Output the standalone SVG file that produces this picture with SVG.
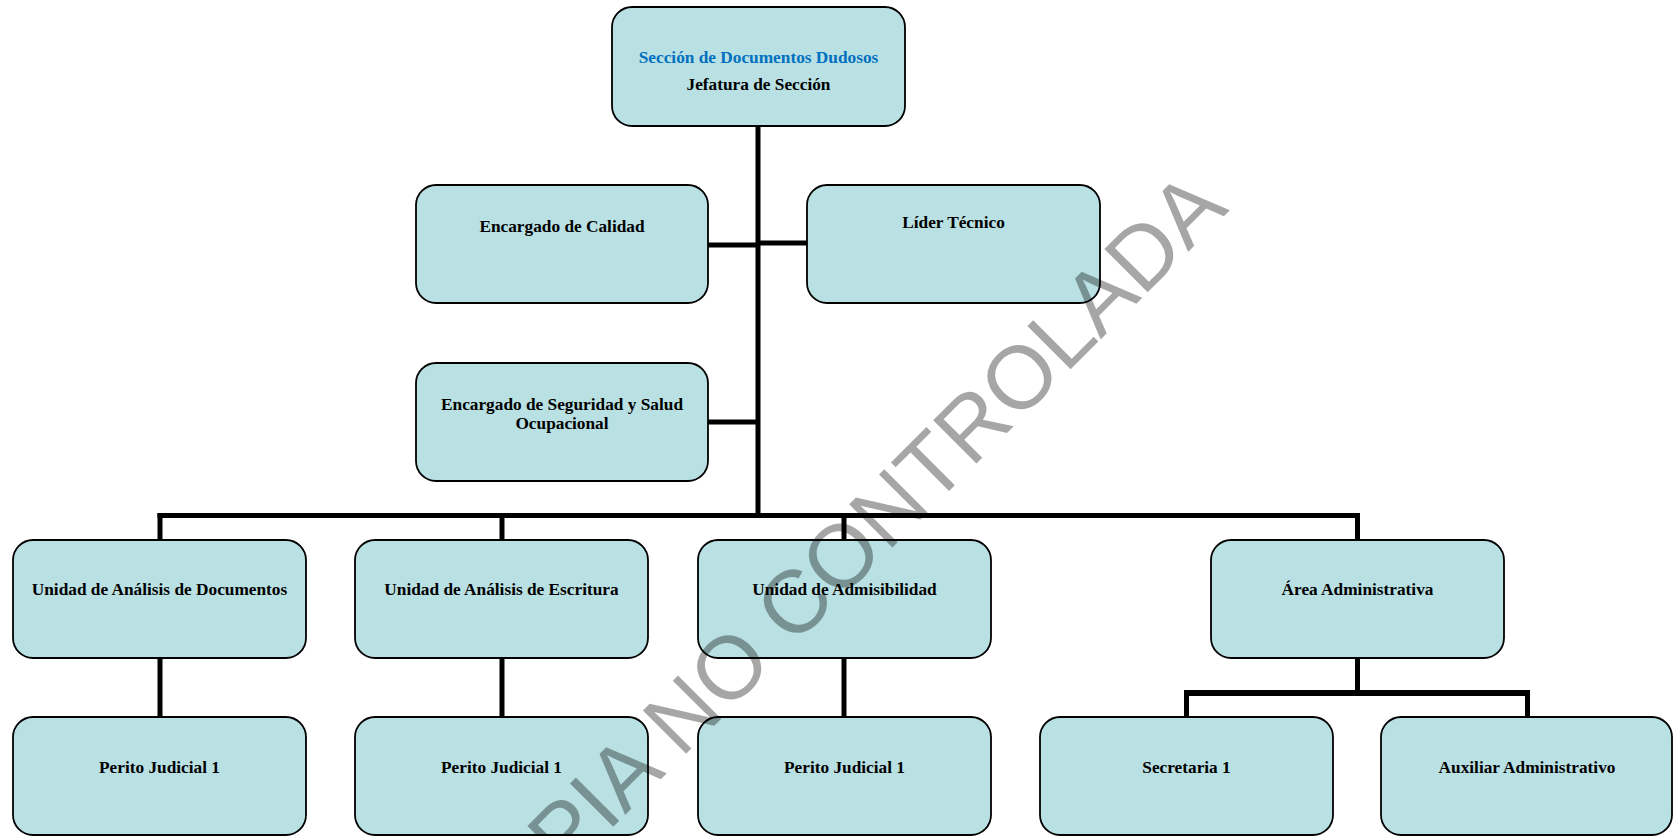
<svg xmlns="http://www.w3.org/2000/svg" width="1673" height="836" viewBox="0 0 1673 836">
<style>
.box{fill:#b9e0e3;stroke:#000;stroke-width:1.8}
.t{font-family:"Liberation Serif","Times New Roman",serif;font-weight:bold;font-size:17.3px;fill:#000;text-anchor:middle}
.blue{fill:#0070c0}
.c{stroke:#000;stroke-width:5;fill:none}
.wm{font-family:"Liberation Sans",Arial,sans-serif;font-size:89px;fill:#000;fill-opacity:0.35;text-anchor:end}
</style>
<rect width="1673" height="836" fill="#fff"/>
<g id="connectors">
<line class="c" x1="758" y1="126" x2="758" y2="518"/>
<line class="c" x1="708" y1="245" x2="758" y2="245"/>
<line class="c" x1="758" y1="243" x2="807" y2="243"/>
<line class="c" x1="708" y1="422" x2="758" y2="422"/>
<line class="c" x1="157.5" y1="515.5" x2="1360" y2="515.5"/>
<line class="c" x1="160" y1="513" x2="160" y2="540"/>
<line class="c" x1="502" y1="513" x2="502" y2="540"/>
<line class="c" x1="844" y1="513" x2="844" y2="540"/>
<line class="c" x1="1357.5" y1="513" x2="1357.5" y2="540"/>
<line class="c" x1="160" y1="658" x2="160" y2="717"/>
<line class="c" x1="502" y1="658" x2="502" y2="717"/>
<line class="c" x1="844" y1="658" x2="844" y2="717"/>
<line class="c" x1="1357.5" y1="658" x2="1357.5" y2="693"/>
<line class="c" x1="1184" y1="693" x2="1530" y2="693" style="stroke-width:6"/>
<line class="c" x1="1186.5" y1="693" x2="1186.5" y2="717"/>
<line class="c" x1="1527.5" y1="693" x2="1527.5" y2="717"/>
</g>
<g id="jefatura">
<rect class="box" x="612" y="7" width="293" height="119" rx="20"/>
<text class="t blue" x="758.5" y="63">Sección de Documentos Dudosos</text>
<text class="t" x="758.5" y="90">Jefatura de Sección</text>
</g>
<g id="calidad">
<rect class="box" x="416" y="185" width="292" height="118" rx="20"/>
<text class="t" x="562" y="232">Encargado de Calidad</text>
</g>
<g id="lider">
<rect class="box" x="807" y="185" width="293" height="118" rx="20"/>
<text class="t" x="953.5" y="228">Líder Técnico</text>
</g>
<g id="seguridad">
<rect class="box" x="416" y="363" width="292" height="118" rx="20"/>
<text class="t" x="562" y="410">Encargado de Seguridad y Salud</text>
<text class="t" x="562" y="429">Ocupacional</text>
</g>
<g id="unidad-documentos">
<rect class="box" x="13" y="540" width="293" height="118" rx="20"/>
<text class="t" x="159.5" y="595">Unidad de Análisis de Documentos</text>
</g>
<g id="unidad-escritura">
<rect class="box" x="355" y="540" width="293" height="118" rx="20"/>
<text class="t" x="501.5" y="595">Unidad de Análisis de Escritura</text>
</g>
<g id="unidad-admisibilidad">
<rect class="box" x="698" y="540" width="293" height="118" rx="20"/>
<text class="t" x="844.5" y="595">Unidad de Admisibilidad</text>
</g>
<g id="area-administrativa">
<rect class="box" x="1211" y="540" width="293" height="118" rx="20"/>
<text class="t" x="1357.5" y="595">Área Administrativa</text>
</g>
<g id="perito-1">
<rect class="box" x="13" y="717" width="293" height="118" rx="20"/>
<text class="t" x="159.5" y="773">Perito Judicial 1</text>
</g>
<g id="perito-2">
<rect class="box" x="355" y="717" width="293" height="118" rx="20"/>
<text class="t" x="501.5" y="773">Perito Judicial 1</text>
</g>
<g id="perito-3">
<rect class="box" x="698" y="717" width="293" height="118" rx="20"/>
<text class="t" x="844.5" y="773">Perito Judicial 1</text>
</g>
<g id="secretaria">
<rect class="box" x="1040" y="717" width="293" height="118" rx="20"/>
<text class="t" x="1186.5" y="773">Secretaria 1</text>
</g>
<g id="auxiliar">
<rect class="box" x="1381" y="717" width="291" height="118" rx="20"/>
<text class="t" x="1527" y="773">Auxiliar Administrativo</text>
</g>
<text class="wm" transform="translate(1230,210) rotate(-45)">COPIA NO CONTROLADA</text>
</svg>
